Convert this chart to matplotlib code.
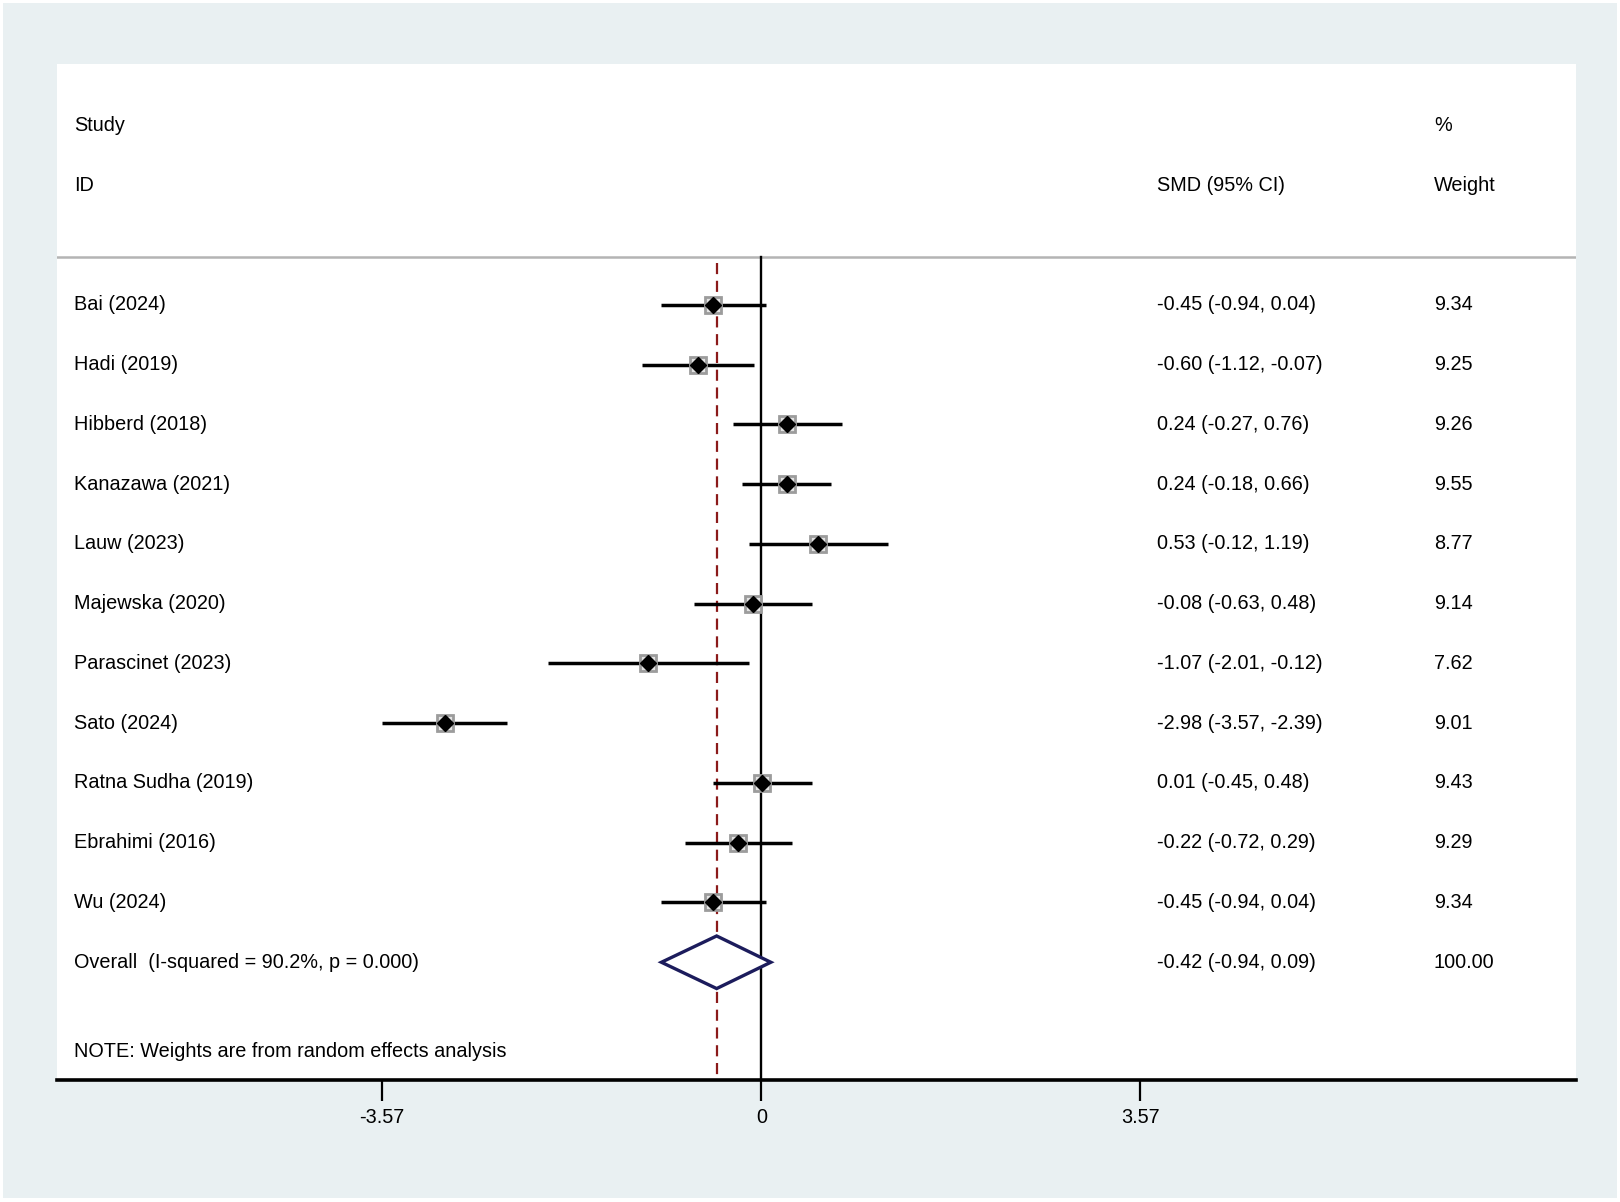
import matplotlib.pyplot as plt
from matplotlib.patches import Rectangle, Polygon
import matplotlib.transforms as mtransforms

plt.rcParams['font.family'] = ['Liberation Sans', 'DejaVu Sans']

studies = ["Bai (2024)", "Hadi (2019)", "Hibberd (2018)", "Kanazawa (2021)", "Lauw (2023)",
           "Majewska (2020)", "Parascinet (2023)", "Sato (2024)", "Ratna Sudha (2019)",
           "Ebrahimi (2016)", "Wu (2024)"]
smd = [-0.45, -0.60, 0.24, 0.24, 0.53, -0.08, -1.07, -2.98, 0.01, -0.22, -0.45]
ci_lo = [-0.94, -1.12, -0.27, -0.18, -0.12, -0.63, -2.01, -3.57, -0.45, -0.72, -0.94]
ci_hi = [0.04, -0.07, 0.76, 0.66, 1.19, 0.48, -0.12, -2.39, 0.48, 0.29, 0.04]
weights = [9.34, 9.25, 9.26, 9.55, 8.77, 9.14, 7.62, 9.01, 9.43, 9.29, 9.34]

overall_est, overall_lo, overall_hi = -0.42, -0.94, 0.09
overall_label = "Overall  (I-squared = 90.2%, p = 0.000)"
note = "NOTE: Weights are from random effects analysis"
xticks = [-3.57, 0, 3.57]
xtick_labels = ["-3.57", "0", "3.57"]

FS = 14.3
Y_BOTTOM, Y_TOP = 13.97, -3.03

fig = plt.figure(figsize=(16.2, 12.02), dpi=100)
fig.patch.set_facecolor("white")
# light grey-blue graph region
fig.patches.append(Rectangle((3 / 1620, 4 / 1202), 1614 / 1620, 1195 / 1202,
                             transform=fig.transFigure, facecolor="#e9f0f2",
                             edgecolor="none", zorder=-1))

ax = fig.add_axes([57 / 1620, 122 / 1202, 1519 / 1620, 1016 / 1202])
ax.set_zorder(2)
ax.set_facecolor("white")
ax.set_xlim(-6.63, 7.67)
ax.set_ylim(Y_BOTTOM, Y_TOP)

for side in ["top", "left", "right"]:
    ax.spines[side].set_visible(False)
ax.spines["bottom"].set_linewidth(2.6)
ax.set_yticks([])
ax.set_xticks(xticks)
ax.set_xticklabels(xtick_labels, fontsize=FS)
ax.tick_params(axis="x", direction="out", length=15, width=1.6, pad=5.5)

# header separator
ax.axhline(0.2, color="#b4b4b4", lw=1.8)

# no-effect line and overall estimate line
ax.plot([0, 0], [0.2, Y_BOTTOM], color="black", lw=1.7, zorder=2)
ax.plot([overall_est, overall_est], [0.3, Y_BOTTOM], color="#8b1a1a", lw=1.6,
        dashes=(5, 3), zorder=2)

rows = list(range(1, len(studies) + 1))
for i, y in enumerate(rows):
    ax.plot([ci_lo[i], ci_hi[i]], [y, y], color="black", lw=2.5, zorder=3,
            solid_capstyle="butt")
    ax.plot(smd[i], y, marker="s", markersize=12, markerfacecolor="#e2e2e2",
            markeredgecolor="#9c9c9c", markeredgewidth=2, zorder=4)
    ax.plot(smd[i], y, marker="D", markersize=8.5, color="black", zorder=5)

# overall diamond
y_ov = len(studies) + 1
h = 0.44
ax.add_patch(Polygon([(overall_lo, y_ov), (overall_est, y_ov - h),
                      (overall_hi, y_ov), (overall_est, y_ov + h)],
                     closed=True, facecolor="white", edgecolor="#1c1c5c",
                     lw=2.4, zorder=4))

trans = mtransforms.blended_transform_factory(ax.transAxes, ax.transData)
x_name, x_smd, x_w = 0.0112, 0.724, 0.9065

ax.text(x_name, -2, "Study", transform=trans, fontsize=FS, va="center")
ax.text(x_name, -1, "ID", transform=trans, fontsize=FS, va="center")
ax.text(x_smd, -1, "SMD (95% CI)", transform=trans, fontsize=FS, va="center")
ax.text(x_w, -2, "%", transform=trans, fontsize=FS, va="center")
ax.text(x_w, -1, "Weight", transform=trans, fontsize=FS, va="center")

for i, y in enumerate(rows):
    ax.text(x_name, y, studies[i], transform=trans, fontsize=FS, va="center")
    ax.text(x_smd, y, "%.2f (%.2f, %.2f)" % (smd[i], ci_lo[i], ci_hi[i]),
            transform=trans, fontsize=FS, va="center")
    ax.text(x_w, y, "%.2f" % weights[i], transform=trans, fontsize=FS, va="center")

ax.text(x_name, y_ov, overall_label, transform=trans, fontsize=FS, va="center")
ax.text(x_smd, y_ov, "%.2f (%.2f, %.2f)" % (overall_est, overall_lo, overall_hi),
        transform=trans, fontsize=FS, va="center")
ax.text(x_w, y_ov, "100.00", transform=trans, fontsize=FS, va="center")
ax.text(x_name, 13.5, note, transform=trans, fontsize=FS, va="center")

fig.savefig("out.png", dpi=100, facecolor=fig.get_facecolor())
